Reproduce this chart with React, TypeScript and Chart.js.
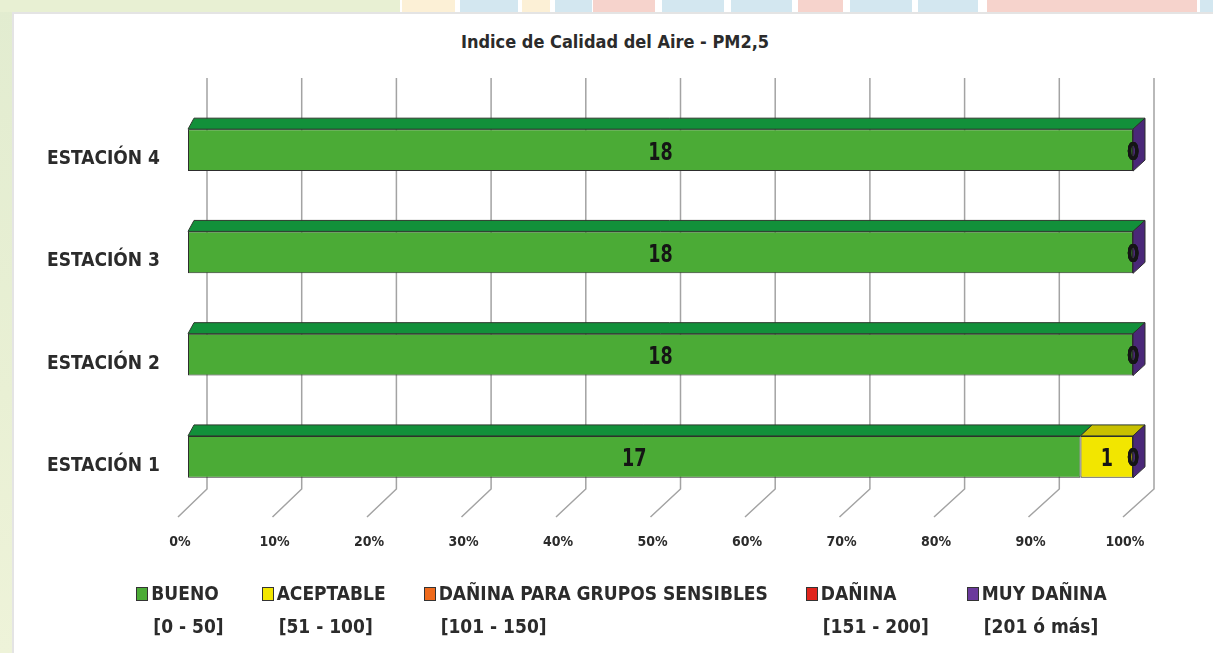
import React, { useEffect, useRef } from 'react';
import { Chart, registerables } from 'chart.js';

Chart.register(...registerables);

// ---------- data ----------
const stations = ['ESTACIÓN 1', 'ESTACIÓN 2', 'ESTACIÓN 3', 'ESTACIÓN 4'];
const bueno = [17, 18, 18, 18];
const aceptable = [1, 0, 0, 0];
const daninaSensibles = [0, 0, 0, 0];
const danina = [0, 0, 0, 0];
const muyDanina = [0, 0, 0, 0];
const categoryNames = ['BUENO', 'ACEPTABLE', 'DAÑINA PARA GRUPOS SENSIBLES', 'DAÑINA', 'MUY DAÑINA'];
const categoryRanges = ['[0 - 50]', '[51 - 100]', '[101 - 150]', '[151 - 200]', '[201 ó más]'];
const chartTitle = 'Indice de Calidad del Aire - PM2,5';

// ---------- styles ----------
const frontColors = ['#4bab36', '#f2e600', '#ef6a1c', '#e0241c', '#6b3a9c'];
const topColors = ['#12903a', '#c8c000', '#c2520f', '#b01a14', '#4e2a7c'];
const sideColors = ['#2f7f24', '#bdb400', '#b54c10', '#a01a14', '#4a2878'];
const FONT = '"Liberation Sans Narrow", "Arial Narrow", "DejaVu Sans Condensed", sans-serif';
const TEXT = '#2b2b2b';

const seriesCounts = [bueno, aceptable, daninaSensibles, danina, muyDanina];

const depthPlugin = {
  id: 'depth3d',
  beforeDatasetsDraw(chart: any) {
    const { ctx, chartArea, scales } = chart;
    const xs = scales.x;
    ctx.save();
    ctx.strokeStyle = '#a3a3a3';
    ctx.lineWidth = 1.5;
    for (let v = 0; v <= 100; v += 10) {
      const xf = xs.getPixelForValue(v);
      const t = v / 100;
      const bx = xf + 19 + 2 * t;
      ctx.beginPath();
      ctx.moveTo(bx, chartArea.top - 21);
      ctx.lineTo(bx, chartArea.bottom - 19);
      ctx.lineTo(xf - 10, chartArea.bottom + 9);
      ctx.stroke();
    }
    ctx.restore();
  },
  afterDatasetsDraw(chart: any) {
    const { ctx, chartArea } = chart;
    const { left, right } = chartArea;
    const dxAt = (x: number) => 6 + 6 * (x - left) / (right - left);
    const dy = 11;
    const n = chart.data.labels.length;
    ctx.save();
    ctx.lineJoin = 'round';
    for (let j = 0; j < n; j++) {
      let last: any = null;
      chart.data.datasets.forEach((_ds: any, i: number) => {
        const el = chart.getDatasetMeta(i).data[j];
        const p = el.getProps(['x', 'y', 'base', 'height'], true);
        const top = p.y - p.height / 2;
        const bottom = p.y + p.height / 2;
        const x0 = Math.min(p.base, p.x);
        const x1 = Math.max(p.base, p.x);
        if (x1 - x0 > 0.5) {
          ctx.beginPath();
          ctx.moveTo(x0, top);
          ctx.lineTo(x1, top);
          ctx.lineTo(x1 + dxAt(x1), top - dy);
          ctx.lineTo(x0 + dxAt(x0), top - dy);
          ctx.closePath();
          ctx.fillStyle = topColors[i];
          ctx.fill();
          ctx.strokeStyle = '#2d3a2d';
          ctx.lineWidth = 1;
          ctx.stroke();
        }
        last = { i, x1, top, bottom };
      });
      if (last) {
        const d = dxAt(last.x1);
        ctx.beginPath();
        ctx.moveTo(last.x1, last.top);
        ctx.lineTo(last.x1 + d, last.top - dy);
        ctx.lineTo(last.x1 + d, last.bottom - dy);
        ctx.lineTo(last.x1, last.bottom);
        ctx.closePath();
        ctx.fillStyle = sideColors[last.i];
        ctx.fill();
        ctx.strokeStyle = '#2d2d2d';
        ctx.lineWidth = 1;
        ctx.stroke();
      }
    }
    // data labels (narrowed to imitate the condensed original face)
    ctx.fillStyle = '#151515';
    ctx.font = `bold 25px ${FONT}`;
    ctx.textAlign = 'center';
    ctx.textBaseline = 'middle';
    const sx = 0.78;
    chart.data.datasets.forEach((_ds: any, i: number) => {
      chart.getDatasetMeta(i).data.forEach((el: any, j: number) => {
        const p = el.getProps(['x', 'y', 'base'], true);
        const cx = (p.base + p.x) / 2;
        ctx.save();
        ctx.translate(cx, p.y + 3);
        ctx.scale(sx, 1);
        ctx.fillText(String(seriesCounts[i][j]), 0, 0);
        ctx.restore();
      });
    });
    ctx.restore();
  },
};

const topStripes: [number, number, string][] = [
  [0, 400, '#e8f0d3'],
  [402, 455, '#fcf0d6'],
  [460, 518, '#d3e7f0'],
  [522, 550, '#fcf0d6'],
  [555, 592, '#d3e7f0'],
  [593, 655, '#f6d3cc'],
  [662, 724, '#d3e7f0'],
  [731, 792, '#d3e7f0'],
  [798, 843, '#f6d3cc'],
  [850, 912, '#d3e7f0'],
  [918, 978, '#d3e7f0'],
  [987, 1197, '#f6d3cc'],
  [1200, 1213, '#d3e7f0'],
];

export default function App() {
  const canvasRef = useRef<HTMLCanvasElement | null>(null);

  useEffect(() => {
    if (!canvasRef.current) return;
    const totals = stations.map((_s, j) => seriesCounts.reduce((a, s) => a + s[j], 0));
    const datasets = seriesCounts.map((s, i) => ({
      label: categoryNames[i],
      data: s.map((v, j) => (totals[j] ? (v / totals[j]) * 100 : 0)),
      backgroundColor: frontColors[i],
      borderColor: '#2d2d2d',
      borderWidth: 1,
      borderSkipped: false,
      barPercentage: 0.41,
      categoryPercentage: 1,
    }));
    const chart = new Chart(canvasRef.current, {
      type: 'bar',
      data: { labels: stations, datasets },
      options: {
        animation: false,
        responsive: false,
        indexAxis: 'y',
        layout: { padding: { left: 0, right: 80, top: 99, bottom: 101 } },
        plugins: {
          legend: { display: false },
          tooltip: { enabled: false },
          title: { display: false },
        },
        scales: {
          x: {
            stacked: true,
            min: 0,
            max: 100,
            grid: { display: false, drawTicks: false },
            border: { display: false },
            afterFit: (scale: any) => {
              scale.height = 44;
            },
            ticks: {
              stepSize: 10,
              padding: 26,
              labelOffset: -8,
              color: TEXT,
              font: { family: FONT, size: 14, weight: 'bold' },
              callback: (v: any) => `${v}%`,
            },
          },
          y: {
            stacked: true,
            reverse: true,
            grid: { display: false, drawTicks: false },
            border: { display: false },
            afterFit: (scale: any) => {
              scale.width = 188;
            },
            ticks: {
              padding: 28,
              labelOffset: 9,
              color: TEXT,
              font: { family: FONT, size: 19, weight: 'bold' },
            },
          },
        },
      } as any,
      plugins: [depthPlugin],
    });
    return () => chart.destroy();
  }, []);

  return (
    <div style={{ position: 'fixed', left: 0, top: 0, width: 1213, height: 653, background: '#ffffff', overflow: 'hidden' }}>
      <div style={{ position: 'absolute', left: 0, top: 0, width: 12, height: 653, background: 'linear-gradient(#e2ecd0, #e9f0d4 60%, #eef3d9)' }} />
      {topStripes.map(([a, b, c], k) => (
        <div key={k} style={{ position: 'absolute', left: a, top: 0, width: b - a, height: 12, background: c }} />
      ))}
      <div style={{ position: 'absolute', left: 12, top: 12, right: 0, bottom: 0, background: '#ffffff', borderLeft: '2px solid #e4e4e4', borderTop: '2px solid #e4e4e4' }} />
      <div
        style={{
          position: 'absolute',
          left: 415,
          width: 400,
          top: 30,
          textAlign: 'center',
          fontFamily: FONT,
          fontWeight: 'bold',
          fontSize: 18,
          lineHeight: '24px',
          color: TEXT,
        }}
      >
        {chartTitle}
      </div>
      <canvas ref={canvasRef} width={1213} height={653} style={{ position: 'absolute', left: 0, top: 0 }} />
      <div
        style={{
          position: 'absolute',
          left: 0,
          top: 577,
          width: 1213,
          display: 'flex',
          justifyContent: 'center',
          paddingLeft: 30,
          boxSizing: 'border-box',
          gap: 38,
          fontFamily: FONT,
          fontWeight: 'bold',
          fontSize: 19,
          color: TEXT,
          lineHeight: '33px',
        }}
      >
        {categoryNames.map((name, i) => (
          <div key={name} style={{ display: 'flex', alignItems: 'flex-start' }}>
            <div
              style={{
                width: 10,
                height: 12,
                marginTop: 10,
                marginRight: 3,
                background: frontColors[i],
                border: '1.5px solid #333',
              }}
            />
            <div>
              <div>{name}</div>
              <div style={{ paddingLeft: 2 }}>{categoryRanges[i]}</div>
            </div>
          </div>
        ))}
      </div>
    </div>
  );
}
